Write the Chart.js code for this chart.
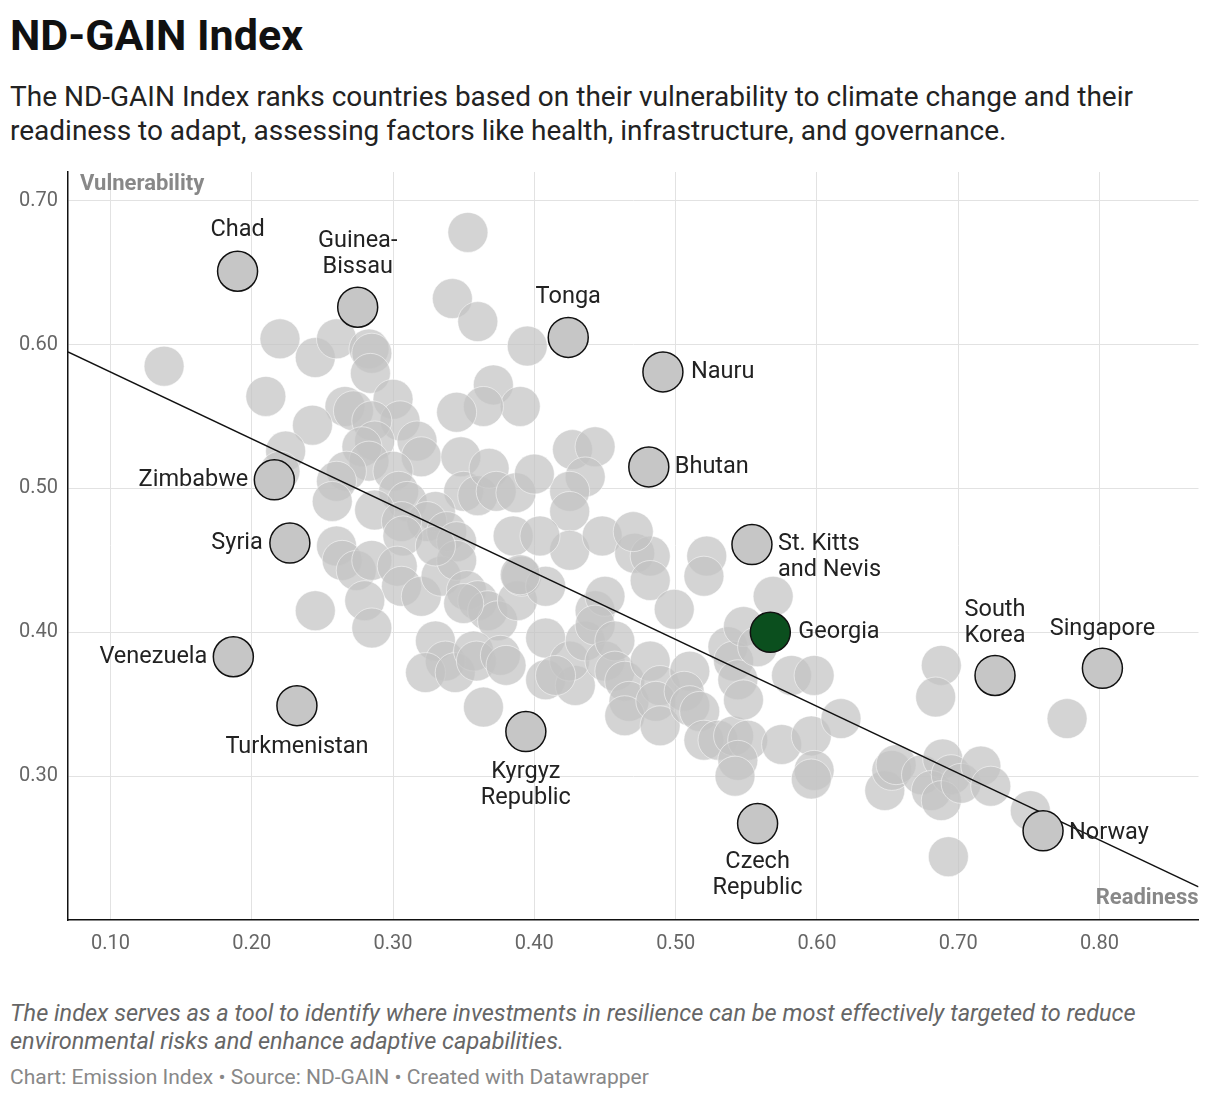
<!DOCTYPE html>
<html><head><meta charset="utf-8">
<script src="https://cdn.jsdelivr.net/npm/chart.js@4"></script>
<style>
body{margin:0;background:#fff;font-family:Roboto,sans-serif;width:1220px;height:1102px;position:relative;overflow:hidden}
#t{position:absolute;left:10px;top:10px;font-size:43px;font-weight:700;color:#111}
#s{position:absolute;left:10px;top:80px;font-size:28px;line-height:34px;color:#222}
#f{position:absolute;left:10px;top:999px;font-size:23.5px;line-height:28px;font-style:italic;color:#666}
#c{position:absolute;left:10px;top:1065px;font-size:21px;color:#888}
#w{position:absolute;left:0;top:150px;width:1220px;height:818px}
</style></head><body>
<div id="t">ND-GAIN Index</div>
<div id="s">The ND-GAIN Index ranks countries based on their vulnerability to climate change and their<br>readiness to adapt, assessing factors like health, infrastructure, and governance.</div>
<div id="w"><canvas id="cv"></canvas></div>
<div id="f">The index serves as a tool to identify where investments in resilience can be most effectively targeted to reduce<br>environmental risks and enhance adaptive capabilities.</div>
<div id="c">Chart: Emission Index • Source: ND-GAIN • Created with Datawrapper</div>
<script>
const xTicks=[0.1,0.2,0.3,0.4,0.5,0.6,0.7,0.8];
const yTicks=[0.3,0.4,0.5,0.6,0.7];
const bgX=[0.138,0.22,0.21,0.245,0.26,0.283,0.285,0.284,0.353,0.342,0.36,0.395,0.371,0.39,0.364,0.345,0.30,0.305,0.266,0.272,0.243,0.224,0.22,0.285,0.287,0.278,0.283,0.317,0.32,0.30,0.304,0.31,0.267,0.26,0.257,0.287,0.348,0.35,0.36,0.368,0.373,0.387,0.427,0.443,0.436,0.425,0.425,0.40,0.425,0.448,0.385,0.404,0.33,0.324,0.338,0.345,0.306,0.307,0.26,0.264,0.274,0.285,0.303,0.306,0.32,0.245,0.28,0.285,0.334,0.345,0.352,0.36,0.367,0.374,0.388,0.391,0.408,0.33,0.337,0.323,0.344,0.357,0.359,0.376,0.38,0.364,0.408,0.408,0.429,0.425,0.436,0.443,0.45,0.443,0.45,0.457,0.457,0.464,0.467,0.464,0.471,0.482,0.482,0.499,0.482,0.489,0.486,0.489,0.51,0.506,0.51,0.517,0.522,0.52,0.52,0.53,0.541,0.537,0.541,0.544,0.548,0.548,0.558,0.569,0.551,0.544,0.542,0.575,0.582,0.598,0.596,0.598,0.596,0.617,0.648,0.653,0.656,0.674,0.688,0.684,0.689,0.681,0.695,0.688,0.702,0.693,0.716,0.723,0.751,0.777,0.39,0.415,0.47,0.35,0.33];
const bgY=[0.585,0.604,0.564,0.591,0.604,0.597,0.594,0.58,0.678,0.632,0.616,0.599,0.572,0.557,0.557,0.553,0.562,0.547,0.557,0.554,0.544,0.526,0.512,0.547,0.533,0.529,0.519,0.533,0.522,0.512,0.498,0.491,0.512,0.505,0.491,0.485,0.522,0.498,0.495,0.514,0.498,0.497,0.527,0.529,0.508,0.498,0.484,0.51,0.457,0.467,0.467,0.467,0.484,0.477,0.47,0.463,0.477,0.467,0.46,0.45,0.443,0.45,0.446,0.432,0.425,0.415,0.422,0.403,0.439,0.45,0.429,0.422,0.415,0.408,0.422,0.439,0.432,0.394,0.38,0.372,0.372,0.387,0.38,0.384,0.377,0.348,0.396,0.367,0.363,0.38,0.394,0.415,0.425,0.405,0.38,0.394,0.373,0.366,0.352,0.342,0.455,0.453,0.436,0.416,0.38,0.363,0.352,0.335,0.373,0.359,0.349,0.345,0.453,0.439,0.325,0.325,0.328,0.39,0.38,0.367,0.353,0.404,0.39,0.425,0.325,0.311,0.3,0.322,0.37,0.37,0.328,0.304,0.298,0.34,0.29,0.304,0.308,0.301,0.377,0.355,0.312,0.29,0.301,0.283,0.295,0.244,0.307,0.293,0.276,0.34,0.44,0.37,0.47,0.42,0.46];
const names=['Chad','Guinea-\nBissau','Tonga','Nauru','Bhutan','Zimbabwe','Syria','St. Kitts\nand Nevis','Georgia','South\nKorea','Singapore','Venezuela','Turkmenistan','Kyrgyz\nRepublic','Czech\nRepublic','Norway'];
const lx=[0.19,0.275,0.424,0.491,0.481,0.216,0.227,0.554,0.567,0.726,0.802,0.187,0.232,0.394,0.558,0.76];
const ly=[0.651,0.626,0.605,0.581,0.515,0.506,0.462,0.461,0.40,0.37,0.375,0.383,0.349,0.331,0.267,0.262];
const trendX=[0.07,0.87], trendY=[0.595,0.223];
const pos=[[0,-41,'center'],[0,-66,'center'],[0,-40,'center'],[28,0,'left'],[26,0,'left'],[-26,0,'right'],[-27,0,'right'],[26,0,'left'],[28,0,'left'],[0,-65,'center'],[0,-39,'center'],[-26,0,'right'],[0,41,'center'],[0,41,'center'],[0,39,'center'],[26,2,'left']];
const labelPlugin={id:'lbl',afterDatasetsDraw(ch){
  const c=ch.ctx,xs=ch.scales.x,ys=ch.scales.y,a=ch.chartArea;
  c.save();c.font='23.5px Roboto';c.fillStyle='#222';c.textBaseline='middle';
  names.forEach((n,i)=>{const px=xs.getPixelForValue(lx[i])+pos[i][0],py=ys.getPixelForValue(ly[i])+pos[i][1];
    c.textAlign=pos[i][2];n.split('\n').forEach((l,k)=>c.fillText(l,px,py+k*26));});
  c.font='bold 22px Roboto';c.fillStyle='#888';c.textAlign='left';c.fillText('Vulnerability',a.left+12,a.top+12);
  c.textAlign='right';c.fillText('Readiness',a.right,a.bottom-22);
  c.restore();}};
new Chart(document.getElementById('cv'),{
 data:{datasets:[
  {type:'scatter',order:2,data:bgX.map((x,i)=>({x,y:bgY[i]})),backgroundColor:'rgba(195,195,195,0.72)',borderColor:'rgba(255,255,255,0.5)',borderWidth:1,pointRadius:20,pointHoverRadius:20},
  {type:'line',order:1,data:trendX.map((x,i)=>({x,y:trendY[i]})),borderColor:'#111',borderWidth:1.5,pointRadius:0,fill:false},
  {type:'scatter',order:0,data:lx.map((x,i)=>({x,y:ly[i]})),backgroundColor:lx.map((x,i)=>names[i]==='Georgia'?'#0b4f1e':'#c6c6c6'),borderColor:'#111',borderWidth:1.5,pointRadius:20,pointHoverRadius:20}
 ]},
 options:{responsive:true,maintainAspectRatio:false,animation:false,
  layout:{padding:{right:0,top:10,bottom:0}},
  plugins:{legend:{display:false},tooltip:{enabled:false}},
  scales:{
   x:{type:'linear',min:0.07,max:0.87,afterBuildTicks:s=>{s.ticks=xTicks.map(v=>({value:v}))},
      ticks:{callback:v=>v.toFixed(2),font:{size:20,family:'Roboto'},color:'#666',padding:12},
      grid:{color:'#e2e2e2',drawTicks:false},border:{color:'#111',width:1.5}},
   y:{type:'linear',min:0.2,max:0.72,afterBuildTicks:s=>{s.ticks=yTicks.map(v=>({value:v}))},afterFit:s=>{s.width=68},
      ticks:{callback:v=>v.toFixed(2),font:{size:20,family:'Roboto'},color:'#666',padding:10},
      grid:{color:'#e2e2e2',drawTicks:false},border:{color:'#111',width:1.5}}
  }},
 plugins:[labelPlugin]});
</script></body></html>
